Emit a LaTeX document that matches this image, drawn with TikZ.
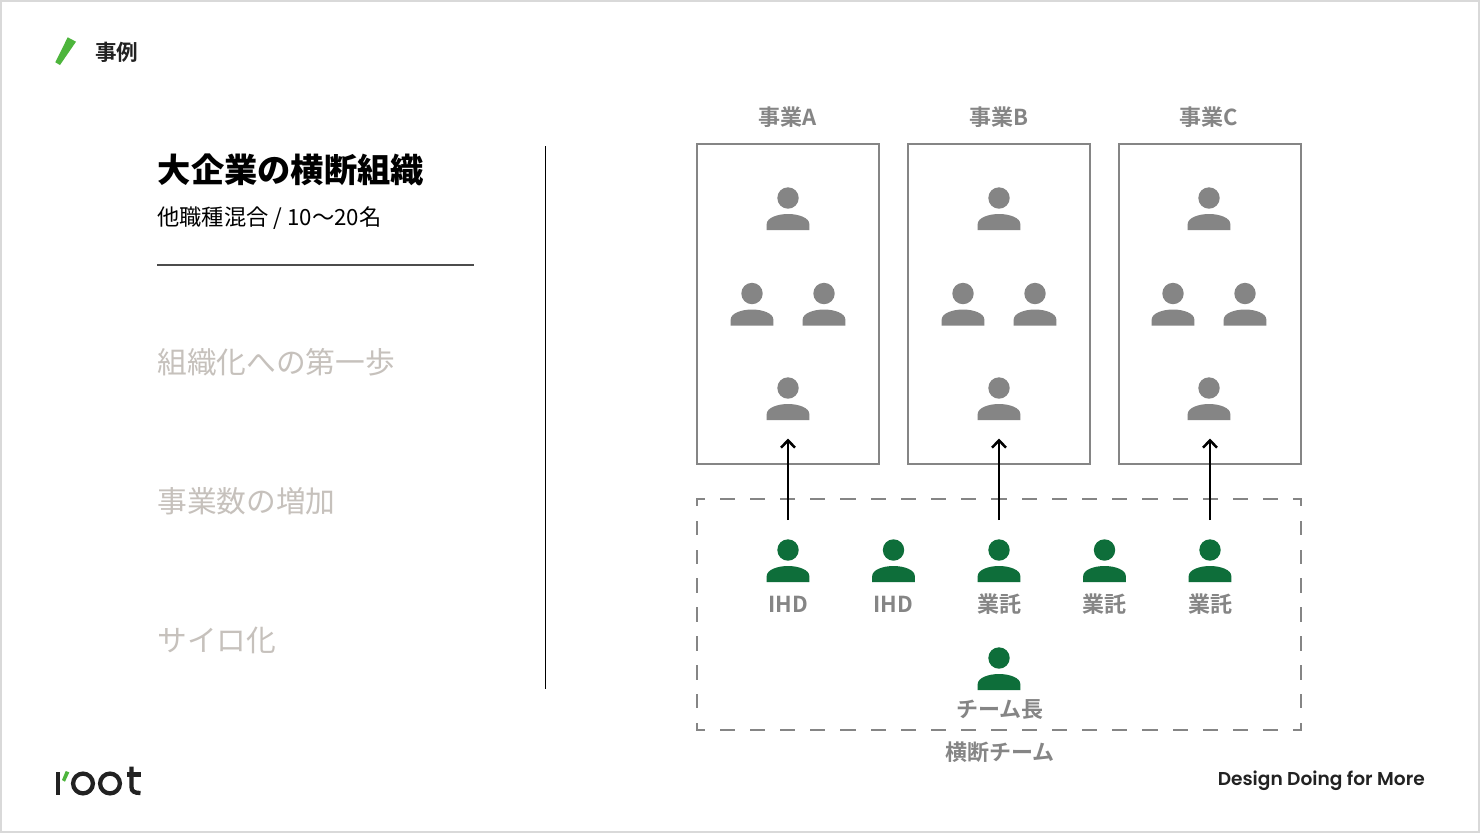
\documentclass[tikz,border=0pt]{standalone}
\usepackage{fontspec}
\usepackage{xcolor}
\usepackage{tikz}
\usetikzlibrary{arrows.meta}
\setmainfont{Noto Sans CJK JP}
\newfontfamily\jpmed{Noto Sans CJK JP Bold}
\newfontfamily\brand{Poppins SemiBold}
\definecolor{ink}{HTML}{222222}
\definecolor{grey}{HTML}{858585}
\definecolor{faded}{HTML}{C6C1BC}
\definecolor{leaf}{HTML}{4DB53C}
\definecolor{pine}{HTML}{0E6E3A}
\tikzset{
  framebox/.style={draw=grey, line width=1.9pt, outer sep=0pt, minimum width=136.5pt, minimum height=240pt},
  teambox/.style={outer sep=0pt, minimum width=453pt, minimum height=173.25pt},
  dashh/.style={draw=grey, line width=1.9pt, line cap=rect, dash pattern=on 9.4pt off 13.25pt, dash phase=4.7pt},
  dashv/.style={draw=grey, line width=1.9pt, line cap=rect, dash pattern=on 8.94pt off 12.73pt, dash phase=4.47pt},
  lab/.style={text=grey, font=\jpmed\fontsize{16.5}{20}\selectfont, inner sep=0pt},
  faint/.style={text=faded, font=\fontsize{22.3}{26}\selectfont, anchor=west, inner sep=0pt},
  assign/.style={draw=black, line width=1.9pt, -{Straight Barb[length=5.5pt,width=10.5pt]}},
  pics/person/.style={code={
    \path[pic actions] (0,0) circle [radius=10.7];
    \path[pic actions] (-21.3,32) -- (21.3,32) -- (21.3,26) .. controls (21.3,20) and (11,16) .. (0,16) .. controls (-11,16) and (-21.3,20) .. (-21.3,26) -- cycle;
  }},
}

\begin{document}
\begin{tikzpicture}[x=0.75pt,y=-0.75pt]
  \path[use as bounding box] (0,0) rectangle (1480,833);
  \draw[draw=black!15, line width=1.5pt, fill=white] (1,1) rectangle (1479,832);

  % header
  \fill[leaf] (67.7,37.3) -- (76,41.7) -- (60,65) -- (55.3,62.3) -- cycle;
  \node[text=ink, font=\jpmed\fontsize{16.2}{20}\selectfont, anchor=west, inner sep=0pt] (heading) at (95,52) {事例};

  % left column
  \node[text=black, font=\bfseries\fontsize{24.95}{30}\selectfont, anchor=west, inner sep=0pt] (title) at (157.5,170) {大企業の横断組織};
  \node[text=black, font=\fontsize{16.7}{20}\selectfont, anchor=west, inner sep=0pt] (subtitle) at (157,218) {他職種混合 / 10〜20名};
  \draw[draw=black!70, line width=1pt] (157,265) -- (474,265);
  \node[faint] (stepone) at (157,362.5) {組織化への第一歩};
  \node[faint] (steptwo) at (157,501.5) {事業数の増加};
  \node[faint] (stepthree) at (157,640.5) {サイロ化};
  \draw[draw=black, line width=0.9pt] (545.5,146) -- (545.5,689);

  % business units
  \node[framebox] (unitA) at (788,304) {};
  \node[framebox] (unitB) at (999,304) {};
  \node[framebox] (unitC) at (1210,304) {};
  \node[lab] (nameA) at (788,117) {事業A};
  \node[lab] (nameB) at (999,117) {事業B};
  \node[lab] (nameC) at (1209,117) {事業C};

  \pic[fill=grey] at (788,198) {person};
  \pic[fill=grey] at (752,293.5) {person};
  \pic[fill=grey] at (824,293.5) {person};
  \pic[fill=grey] at (788,388) {person};
  \pic[fill=grey] at (999,198) {person};
  \pic[fill=grey] at (963,293.5) {person};
  \pic[fill=grey] at (1035,293.5) {person};
  \pic[fill=grey] at (999,388) {person};
  \pic[fill=grey] at (1209,198) {person};
  \pic[fill=grey] at (1173,293.5) {person};
  \pic[fill=grey] at (1245,293.5) {person};
  \pic[fill=grey] at (1209,388) {person};

  % cross team
  \node[teambox] (team) at (999,614.5) {};
  \draw[dashh] (team.north west) -- (team.north east);
  \draw[dashh] (team.south west) -- (team.south east);
  \draw[dashv] (team.north west) -- (team.south west);
  \draw[dashv] (team.north east) -- (team.south east);
  \node[lab] (teamname) at (1000,752.5) {横断チーム};

  \pic[fill=pine] at (788,550) {person};
  \pic[fill=pine] at (893.5,550) {person};
  \pic[fill=pine] at (999,550) {person};
  \pic[fill=pine] at (1104.5,550) {person};
  \pic[fill=pine] at (1210,550) {person};
  \pic[fill=pine] at (999,658) {person};
  \node[lab] (ihdA) at (788,604.5) {IHD};
  \node[lab] (ihdB) at (893.5,604.5) {IHD};
  \node[lab] (outA) at (999,604.5) {業託};
  \node[lab] (outB) at (1104.5,604.5) {業託};
  \node[lab] (outC) at (1210,604.5) {業託};
  \node[lab] (lead) at (1000,709.5) {チーム長};

  % assignments
  \coordinate (fromA) at (788,520);
  \coordinate (fromB) at (999,520);
  \coordinate (fromC) at (1210,520);
  \coordinate (toA) at (788,438.5);
  \coordinate (toB) at (999,438.5);
  \coordinate (toC) at (1210,438.5);
  \draw[assign] (fromA) -- (toA);
  \draw[assign] (fromB) -- (toB);
  \draw[assign] (fromC) -- (toC);

  % logo
  \fill[ink] (55.5,772) rectangle (60,795);
  \fill[leaf] (65.7,771) -- (69.3,772.3) -- (65,781.7) -- (62,780) -- cycle;
  \draw[ink, line width=3.2pt] (83,783.5) circle [radius=9.9];
  \draw[ink, line width=3.2pt] (110,783.5) circle [radius=9.9];
  \draw[ink, line width=3.2pt] (131.5,766.5) -- (131.5,787) .. controls (131.5,791.5) and (134.5,793) .. (140.5,793);
  \draw[ink, line width=3.2pt] (126.5,774.5) -- (140.5,774.5);
  \node[text=ink, font=\brand\fontsize{13.95}{18}\selectfont, anchor=east, inner sep=0pt] (tagline) at (1425,781) {Design Doing for More};
\end{tikzpicture}
\end{document}
